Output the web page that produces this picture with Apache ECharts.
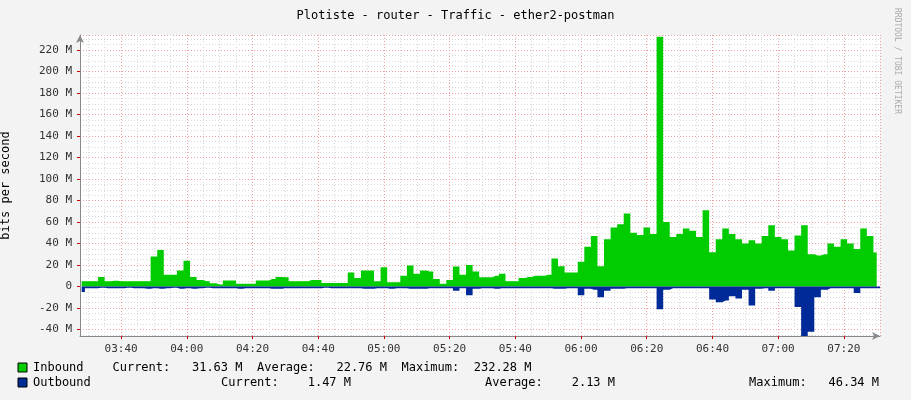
<!DOCTYPE html>
<html><head><meta charset="utf-8">
<script src="https://cdn.jsdelivr.net/npm/echarts@6/dist/echarts.min.js"></script>
<style>html,body{margin:0;padding:0;background:#f3f3f3}#c{width:911px;height:400px}</style>
</head><body><div id="c"></div>
<script>
// minutes after 03:00, 2-minute steps
const startMinute = 28, stepMinutes = 2;
const inbound = [5,5,5,9,5,5.5,5,5,5,5,5,28,34,11,11,15,24,9,6,5,3,2,5.6,5.6,2.5,2.5,2.5,5.6,5.6,7,9,8.7,5,5,5,6,6,3.4,3.4,3.4,3.4,13,8,15,15,5,
18,4,4,10,19.5,12,15,14,7,2.5,6,18.6,11,20,14,8.7,8.7,10,12,5,5,8,9,10,10,11,26,19,13,13,23,37,47,19,44,
55,58,68,50,48,55,49,232.28,60,46,49,54,52,46,71,32,44,54,49,44,40,43,40,47,57,46,44,33.5,47.5,57,30,29,30,40,37,44,40,35,54,47,31.63];
const outbound = [-5,-1.5,-1.5,-1,-1.5,-1.5,-1.5,-1,-1.5,-1.5,-2,-1.5,-2,-1.5,-1,-2,-1.5,-2,-1.5,-1,-1.5,-1.5,-1.5,-1.5,-2,-1.5,-1.5,-1.5,-1.5,-2,-2,-1.5,-1.5,-1.5,-1.5,-1.5,-1.5,-1,-1.5,-1.5,-1.5,-1.5,-1.5,-2,-2,-1.5,
-1.5,-2,-1.5,-1.5,-2,-2,-2,-1.5,-1.5,-1.5,-1.5,-4,-1.5,-8,-2,-1.5,-1.5,-2,-1.5,-1.5,-1.5,-1.5,-1.5,-1.5,-1.5,-1.5,-2,-2,-1.5,-1.5,-8,-2,-3,-10,-4,
-2,-2,-1.5,-1.5,-1.5,-1.5,-1.5,-21,-3,-1.5,-1.5,-1.5,-1.5,-1.5,-1.5,-12,-14.6,-13,-9,-11,-3,-17.7,-2,-1.5,-4,-1.5,-1.5,-1.5,-19,-46.34,-42,-10,-3,-1.5,-1.5,-1.5,-1.5,-6,-1.5,-1.5,-1.5,-14.6,-1.47];
const yTicks = [-40,-20,0,20,40,60,80,100,120,140,160,180,200,220];
const xTicks = ['03:40','04:00','04:20','04:40','05:00','05:20','05:40','06:00','06:20','06:40','07:00','07:20'];
const title = 'Plotiste - router - Traffic - ether2-postman';

const toMin = s => { const [h,m]=s.split(':').map(Number); return h*60+m; };
const xTickMin = xTicks.map(toMin);
const fmt = v => { const h=Math.floor(v/60), m=Math.round(v%60); return String(h).padStart(2,'0')+':'+String(m).padStart(2,'0'); };
const inData = inbound.map((v,i)=>[180+startMinute+i*stepMinutes,v]);
const outData = outbound.map((v,i)=>[180+startMinute+i*stepMinutes,v]);
const mono = 'DejaVu Sans Mono';
const chart = echarts.init(document.getElementById('c'));
chart.setOption({
  backgroundColor:'#f3f3f3',
  animation:false,
  title:{text:title,left:'center',top:5,textStyle:{fontFamily:mono,fontSize:12,fontWeight:'normal',color:'#000'}},
  grid:{left:80,right:31,top:35,bottom:64,backgroundColor:'#fff',show:true,borderWidth:0,containLabel:false,outerBoundsMode:'none'},
  xAxis:{type:'value',min:207.5,max:451,minInterval:20,maxInterval:20,
    axisLine:{onZero:false,lineStyle:{color:'#888'},symbol:['none','arrow'],symbolSize:[6,8]},
    axisTick:{show:true,lineStyle:{color:'#c00'},length:3},
    axisLabel:{showMinLabel:false,showMaxLabel:false,formatter:v=>xTickMin.includes(v)?fmt(v):'',fontFamily:mono,fontSize:11,color:'#333'},
    splitLine:{show:true,lineStyle:{color:'#f0a0a0',type:[1,2]}},
    minorTick:{show:false,splitNumber:4},
    minorSplitLine:{show:true,lineStyle:{color:'#d8d8d8',type:[1,2]}}},
  yAxis:{type:'value',min:-46,max:234,minInterval:20,maxInterval:20,
    name:'bits per second',nameLocation:'middle',nameGap:68,nameTextStyle:{fontFamily:mono,fontSize:12,color:'#000'},
    axisLine:{show:true,lineStyle:{color:'#888'},symbol:['none','arrow'],symbolSize:[6,8]},
    axisTick:{show:true,lineStyle:{color:'#c00'},length:3},
    axisLabel:{showMinLabel:false,showMaxLabel:false,fontFamily:mono,fontSize:11,color:'#333',
      formatter:v=>yTicks.includes(v)?(v===0?'0':v+' M'):''},
    splitLine:{show:true,lineStyle:{color:'#f0a0a0',type:[1,2]}},
    minorSplitLine:{show:true,lineStyle:{color:'#d8d8d8',type:[1,2]}},minorTick:{splitNumber:4}},
  series:[
    {name:'Inbound',type:'line',data:inData,step:'middle',symbol:'none',lineStyle:{width:0},areaStyle:{color:'#00CC00',opacity:1},itemStyle:{color:'#00CC00'}},
    {name:'Outbound',type:'line',data:outData,step:'middle',symbol:'none',lineStyle:{width:0},areaStyle:{color:'#002A97',opacity:1},itemStyle:{color:'#002A97'}}
  ],
  graphic:[
    {type:'text',left:893,top:8,rotation:-Math.PI/2,style:{text:'RRDTOOL / TOBI OETIKER',fontFamily:mono,fontSize:8,fill:'#aaa'}},
    {type:'rect',shape:{x:18,y:363,width:9,height:9},style:{fill:'#00CC00',stroke:'#000'}},
    {type:'rect',shape:{x:18,y:378,width:9,height:9},style:{fill:'#002A97',stroke:'#000'}},
    {type:'text',x:33,y:362,style:{text:'Inbound    Current:   31.63 M  Average:   22.76 M  Maximum:  232.28 M',fontFamily:mono,fontSize:12,fill:'#000'}},
    {type:'text',x:33,y:377,style:{text:'Outbound',fontFamily:mono,fontSize:12,fill:'#000'}},
    {type:'text',x:221,y:377,style:{text:'Current:    1.47 M',fontFamily:mono,fontSize:12,fill:'#000'}},
    {type:'text',x:485,y:377,style:{text:'Average:    2.13 M',fontFamily:mono,fontSize:12,fill:'#000'}},
    {type:'text',x:749,y:377,style:{text:'Maximum:   46.34 M',fontFamily:mono,fontSize:12,fill:'#000'}}
  ]
});
</script></body></html>
